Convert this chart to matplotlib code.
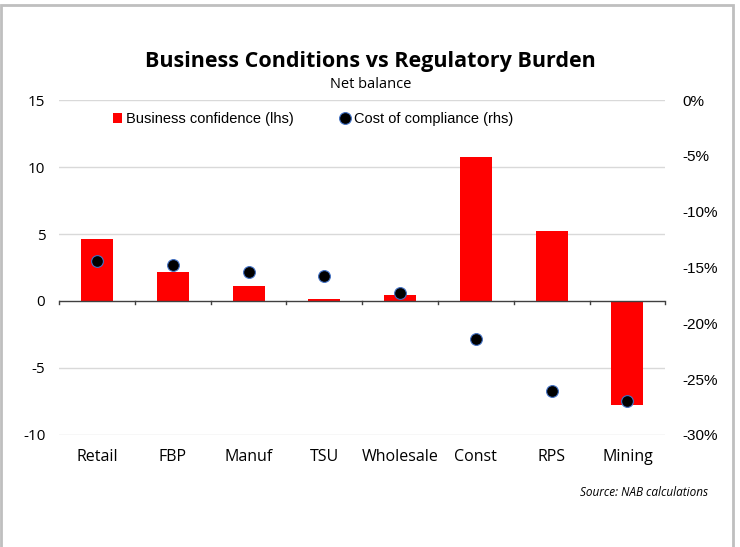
import matplotlib.pyplot as plt
from matplotlib.patches import Rectangle
from matplotlib.ticker import FuncFormatter
import numpy as np

# data
categories = ['Retail', 'FBP', 'Manuf', 'TSU', 'Wholesale', 'Const', 'RPS', 'Mining']
confidence = [4.6, 2.2, 1.1, 0.15, 0.45, 10.75, 5.2, -7.8]          # net balance, lhs
compliance = [-14.4, -14.8, -15.4, -15.8, -17.3, -21.4, -26.1, -27.0]  # %, rhs

left_ticks = [-10, -5, 0, 5, 10, 15]
right_ticks = [-30, -25, -20, -15, -10, -5, 0]

plt.rcParams['font.family'] = ['Open Sans', 'DejaVu Sans']
plt.rcParams['axes.unicode_minus'] = False

fig = plt.figure(figsize=(7.4, 5.47), dpi=100)
ax = fig.add_axes([0.080, 0.205, 0.819, 0.612])
ax2 = ax.twinx()

x = np.arange(len(categories))
ax.bar(x, confidence, width=0.42, color='#ff0000', zorder=2,
       label='Business confidence (lhs)')
ax2.plot(x, compliance, 'o', color='black', markersize=8.5,
         markeredgecolor='#4472c4', markeredgewidth=0.8, zorder=3,
         label='Cost of compliance (rhs)')

ax.set_xlim(-0.5, len(categories) - 0.5)
ax.set_ylim(-10, 15)
ax2.set_ylim(-30, 0)
ax.set_yticks(left_ticks)
ax2.set_yticks(right_ticks)
ax2.yaxis.set_major_formatter(FuncFormatter(lambda v, p: f'{v:.0f}%'))

# gridlines (excluding zero, which is the axis line)
for v in left_ticks:
    if v != 0:
        ax.axhline(v, color='#d9d9d9', lw=1.0, zorder=0)
ax.axhline(0, color='#404040', lw=1.0, zorder=3)

# category ticks at boundaries, hanging below the zero line
for b in np.arange(-0.5, len(categories), 1.0):
    ax.plot([b, b], [0, -0.25], color='#404040', lw=1.0, zorder=3, clip_on=False)

ax.set_xticks(x)
ax.set_xticklabels(categories, fontsize=11.5)
ax.tick_params(axis='x', length=0, pad=10)
ax.tick_params(axis='y', length=0, labelsize=11, pad=10)
ax2.tick_params(axis='y', length=0, pad=12)
for lab in ax2.get_yticklabels():
    lab.set_fontfamily('Liberation Sans')
    lab.set_fontsize(11)

for a in (ax, ax2):
    for s in a.spines.values():
        s.set_visible(False)

h1, l1 = ax.get_legend_handles_labels()
h2, l2 = ax2.get_legend_handles_labels()
leg = fig.legend(h1 + h2, l1 + l2, loc='upper left', bbox_to_anchor=(0.143, 0.809),
                 bbox_transform=fig.transFigure, ncol=2, frameon=False,
                 handlelength=0.6, handletextpad=0.3, columnspacing=3.2,
                 borderpad=0, prop={'family': 'Liberation Sans', 'size': 10.5})

fig.text(0.501, 0.887, 'Business Conditions vs Regulatory Burden', ha='center',
         va='center', fontsize=15.5, fontweight='bold')
fig.text(0.501, 0.846, 'Net balance', ha='center', va='center', fontsize=10.5)
fig.text(0.957, 0.100, 'Source: NAB calculations', ha='right', va='center',
         fontsize=8.5, style='italic')

# outer frame
fig.patches.append(Rectangle((0.002, -0.01), 0.989, 1.0, transform=fig.transFigure,
                             fill=False, edgecolor='#bfbfbf', lw=2))

fig.savefig('out.png', dpi=100)
